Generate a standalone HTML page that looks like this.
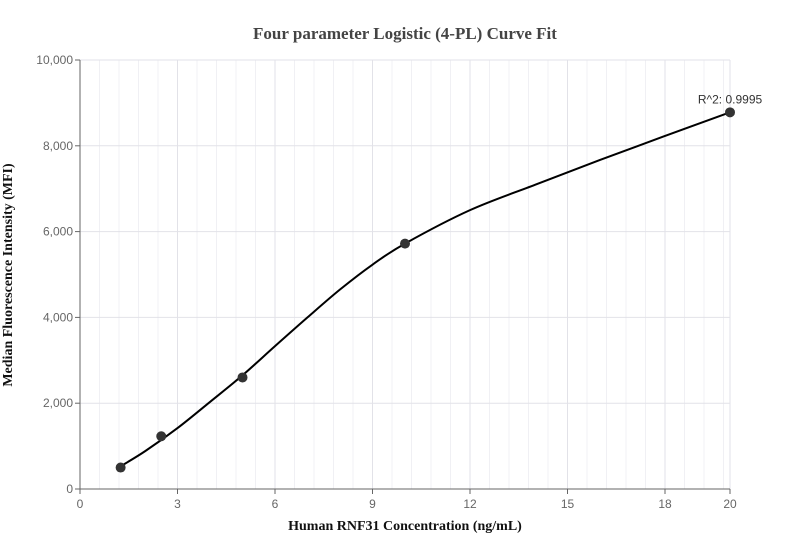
<!DOCTYPE html>
<html><head><meta charset="utf-8"><style>
body{margin:0;background:#fff;}
svg{display:block;}
</style></head><body>
<svg id="chart" width="811" height="560" xmlns="http://www.w3.org/2000/svg">
<text x="405" y="39" text-anchor="middle" font-family="Liberation Serif, serif" font-weight="bold" font-size="17" fill="#444">Four parameter Logistic (4-PL) Curve Fit</text>
<g id="grid"></g>
<g id="axes"></g>
<g id="series"></g>
<text x="405" y="530" text-anchor="middle" font-family="Liberation Serif, serif" font-weight="bold" font-size="14" fill="#111">Human RNF31 Concentration  (ng/mL)</text>
<text transform="translate(12,275) rotate(-90)" text-anchor="middle" font-family="Liberation Serif, serif" font-weight="bold" font-size="14" fill="#111">Median Fluorescence Intensity (MFI)</text>
</svg>
<script>
const pointX=[1.25,2.5,5,10,20];
const pointY=[500,1230,2600,5720,8780];
const curveX=[1.25,2,3,4,5,6,7,8,9,10,12,14,16,18,20];
const curveY=[530,880,1420,2030,2650,3330,4000,4650,5230,5720,6500,7090,7670,8230,8780];
const xTicks=[0,3,6,9,12,15,18,20];
const yTicks=[0,2000,4000,6000,8000,10000];
const yTickLabels=["0","2,000","4,000","6,000","8,000","10,000"];
const r2Label="R^2: 0.9995";
const NS="http://www.w3.org/2000/svg";
const X0=80,X1=730,Y0=489,Y1=60;
const sx=v=>X0+(v/20)*(X1-X0);
const sy=v=>Y0-(v/10000)*(Y0-Y1);
function mk(tag,attrs,parent){const e=document.createElementNS(NS,tag);for(const k in attrs)e.setAttribute(k,attrs[k]);parent.appendChild(e);return e;}
const grid=document.getElementById('grid'),axes=document.getElementById('axes'),series=document.getElementById('series');
for(let v=0.6;v<20;v+=0.6){const l=mk('line',{x1:sx(v),x2:sx(v),y1:Y1,y2:Y0,stroke:'#f0f0f4','stroke-width':1},grid);

}
xTicks.forEach(t=>{if(t===0)return;const l=mk('line',{x1:sx(t),x2:sx(t),y1:Y1,y2:Y0,stroke:'#e2e2e8','stroke-width':1},grid);

});
yTicks.forEach(t=>{if(t===0)return;const l=mk('line',{x1:X0,x2:X1,y1:sy(t),y2:sy(t),stroke:'#e2e2e8','stroke-width':1},grid);

});
const ya=mk('line',{x1:X0,x2:X0,y1:Y1,y2:Y0,stroke:'#666','stroke-width':1},axes);


const xa=mk('line',{x1:X0,x2:X1,y1:Y0,y2:Y0,stroke:'#666','stroke-width':1},axes);


xTicks.forEach(t=>{mk('line',{x1:sx(t),x2:sx(t),y1:Y0,y2:Y0+5,stroke:'#666'},axes);
const tx=mk('text',{x:sx(t),y:Y0+19,'text-anchor':'middle','font-family':'Liberation Sans, sans-serif','font-size':12,fill:'#666'},axes);tx.textContent=t;

});
yTicks.forEach((t,i)=>{mk('line',{x1:X0-5,x2:X0,y1:sy(t),y2:sy(t),stroke:'#666'},axes);
const tx=mk('text',{x:X0-7,y:sy(t)+4,'text-anchor':'end','font-family':'Liberation Sans, sans-serif','font-size':12,fill:'#666'},axes);tx.textContent=yTickLabels[i];

});
const P=curveX.map((x,i)=>[sx(x),sy(curveY[i])]);
let d='M'+P[0][0]+','+P[0][1];
for(let i=0;i<P.length-1;i++){const p0=P[Math.max(0,i-1)],p1=P[i],p2=P[i+1],p3=P[Math.min(P.length-1,i+2)];
d+=' C'+(p1[0]+(p2[0]-p0[0])/6)+','+(p1[1]+(p2[1]-p0[1])/6)+' '+(p2[0]-(p3[0]-p1[0])/6)+','+(p2[1]-(p3[1]-p1[1])/6)+' '+p2[0]+','+p2[1];}
const c=mk('path',{d:d,fill:'none',stroke:'#000','stroke-width':2},series);


pointX.forEach((x,i)=>{const p=mk('circle',{cx:sx(x),cy:sy(pointY[i]),r:5,fill:'#333'},series);

});
const lab=mk('text',{x:sx(20),y:sy(8780)-9,'text-anchor':'middle','font-family':'Liberation Sans, sans-serif','font-size':12,fill:'#333'},series);lab.textContent=r2Label;


</script>
</body></html>
